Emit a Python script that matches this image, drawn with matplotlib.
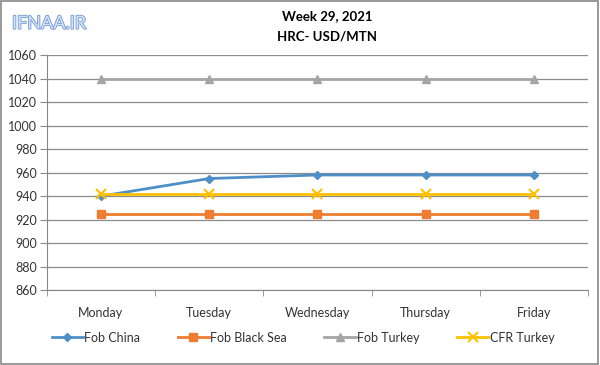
import matplotlib.pyplot as plt
import matplotlib.patheffects as pe
import numpy as np

days = ["Monday", "Tuesday", "Wednesday", "Thursday", "Friday"]
fob_china = [940, 955, 958, 958, 958]
fob_black_sea = [925, 925, 925, 925, 925]
fob_turkey = [1040, 1040, 1040, 1040, 1040]
cfr_turkey = [942, 942, 942, 942, 942]
yticks = list(range(860, 1061, 20))

plt.rcParams["font.family"] = ["Lato", "DejaVu Sans"]

fig = plt.figure(figsize=(6, 3.65), dpi=100)
ax = fig.add_axes([0.078, 0.205, 0.902, 0.644])

x = np.arange(len(days))
ax.plot(x, fob_china, color="#4f8fc8", lw=2, marker="D", ms=4.5, label="Fob China")
ax.plot(x, fob_black_sea, color="#ed7d31", lw=2, marker="s", ms=6, label="Fob Black Sea")
ax.plot(x, fob_turkey, color="#a5a5a5", lw=2, marker="^", ms=6, label="Fob Turkey")
ax.plot(x, cfr_turkey, color="#ffc000", lw=2, marker="x", ms=7, mew=1.5, label="CFR Turkey")

ax.set_xlim(-0.5, len(days) - 0.5)
ax.set_ylim(860, 1060)
ax.set_yticks(yticks)
ax.set_xticks(x)
ax.set_xticklabels(days)
ax.set_xticks(np.arange(-0.5, len(days), 1), minor=True)
ax.tick_params(axis="x", which="major", length=0, pad=12, labelsize=9, labelcolor="#333333")
ax.tick_params(axis="x", which="minor", length=4, color="#888888")
ax.tick_params(axis="y", length=5, color="#888888", labelsize=9, pad=2, labelcolor="#333333")
ax.grid(axis="y", color="#8c8c8c", lw=0.9)
ax.set_axisbelow(True)
for s in ["top", "right"]:
    ax.spines[s].set_visible(False)
ax.spines["left"].set_color("#888888")
ax.spines["bottom"].set_color("#888888")

fig.text(0.545, 0.955, "Week 29, 2021", ha="center", va="center", fontsize=9.5, fontweight="bold")
fig.text(0.545, 0.9, "HRC- USD/MTN", ha="center", va="center", fontsize=9.5, fontweight="bold")
fig.text(0.02, 0.935, "IFNAA.IR", ha="left", va="center", fontsize=13, color="#d2e2f6",
         path_effects=[pe.withStroke(linewidth=1.3, foreground="#7a9fd6")])

leg = fig.legend(loc="center", bbox_to_anchor=(0.505, 0.075), ncol=4, frameon=False, fontsize=9,
                 handlelength=2.5, columnspacing=3.0, handletextpad=0.1)
for t in leg.get_texts():
    t.set_color("#333333")

fig.patches.append(plt.Rectangle((0.002, 0.003), 0.995, 0.993, transform=fig.transFigure,
                                 fill=False, edgecolor="#888888", lw=1.2))

fig.savefig("out.png", dpi=100)
